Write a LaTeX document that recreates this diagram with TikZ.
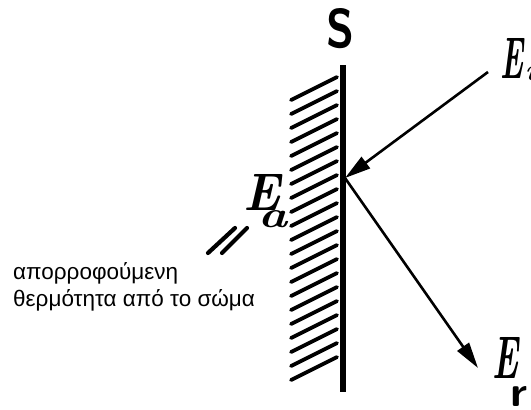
\documentclass[tikz,border=0pt]{standalone}
\usepackage{fontspec}
\newfontfamily\greekfont{Liberation Sans}
\usetikzlibrary{arrows.meta}
\begin{document}
\begin{tikzpicture}[x=1pt, y=-1pt,
    ray/.style={line width=2.6pt, -{Triangle[length=26pt, width=14pt]}},
    hatchline/.style={line width=3.8pt, line cap=round},
    letter/.style={inner sep=0pt, anchor=north west}]
  \useasboundingbox (0,0) rectangle (531,410);
  % surface S with hatching behind it
  \foreach \k in {0,...,20}
    \draw[hatchline] (291,100+14*\k) -- (337,77+14*\k);
  \draw[line width=6pt] (343,65) coordinate (wtop) -- (343,392) coordinate (wbot);
  \node[letter] (S) at (326,8) {\resizebox{28pt}{39pt}{\sffamily\bfseries S}};
  % incident and reflected rays
  \coordinate (src) at (488,72);
  \coordinate (hit) at (345,178);
  \coordinate (out) at (478,368);
  \draw[ray] (src) -- (hit);
  \draw[ray] (hit) -- (out);
  \node[letter] (Ei) at (500,38) {\resizebox{23pt}{40pt}{\bfseries\itshape E}};
  \node[letter] (Eisub) at (525,60) {\resizebox{!}{20pt}{\bfseries\itshape i}};
  \node[letter] (Er) at (492,337) {\resizebox{26pt}{41pt}{\bfseries\itshape E}};
  \node[letter] (Ersub) at (510,386) {\resizebox{17pt}{20pt}{\sffamily\bfseries r}};
  % absorbed part
  \node[letter] (Ea) at (243,174) {\resizebox{37pt}{36pt}{\bfseries\itshape E}};
  \node[letter] (Easub) at (258,210) {\resizebox{29pt}{17pt}{\bfseries\itshape a}};
  \draw[hatchline, line width=4.2pt] (208,253) -- (235,228);
  \draw[hatchline, line width=4.2pt] (222,253) -- (247,228);
  \node[anchor=north west, inner sep=0pt, align=left,
        font=\greekfont\fontsize{22.5}{27}\selectfont] (note) at (13,262)
        {απορροφούμενη\\θερμότητα από το σώμα};
\end{tikzpicture}
\end{document}
